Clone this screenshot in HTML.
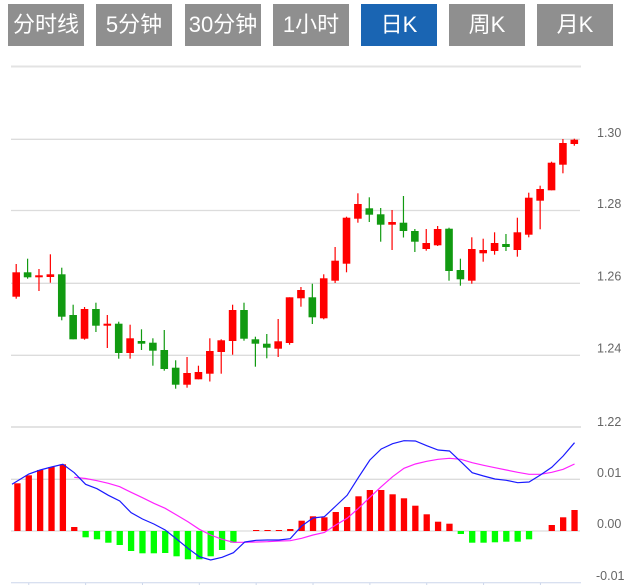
<!DOCTYPE html>
<html><head><meta charset="utf-8"><style>
html,body{margin:0;padding:0;background:#fff;}
body{width:638px;height:585px;position:relative;overflow:hidden;font-family:"Liberation Sans","Noto Sans CJK SC",sans-serif;}
.b{position:absolute;top:4px;width:76px;height:42px;line-height:42px;text-align:center;color:#fff;background:#8f8f8f;font-size:22px;white-space:nowrap;}
.b.on{background:#1a65b3;}
svg{position:absolute;left:0;top:0;}
.r{fill:#ff0000;}
.g{fill:#119a11;}
.gb{fill:#00ff00;}
.wr{stroke:#ff0000;stroke-width:1.2;}
.wg{stroke:#119a11;stroke-width:1.2;}
.lbl{font-family:"Liberation Sans",sans-serif;font-size:12.5px;fill:#666;}
</style></head><body>
<div class="b" style="left:8px">分时线</div>
<div class="b" style="left:96px">5分钟</div>
<div class="b" style="left:185px">30分钟</div>
<div class="b" style="left:273px">1小时</div>
<div class="b on" style="left:361px">日K</div>
<div class="b" style="left:449px">周K</div>
<div class="b" style="left:537px">月K</div>
<svg width="638" height="585" viewBox="0 0 638 585">
<g stroke="#e3e3e3" stroke-width="2">
<line x1="11" y1="66.5" x2="581" y2="66.5"/>
<line x1="11" y1="427" x2="581" y2="427"/>
</g>
<g stroke="#dcdcdc" stroke-width="1.3">
<line x1="11" y1="139.3" x2="580" y2="139.3"/>
<line x1="11" y1="210.5" x2="580" y2="210.5"/>
<line x1="11" y1="283.3" x2="580" y2="283.3"/>
<line x1="11" y1="355.3" x2="580" y2="355.3"/>
<line x1="11" y1="479.3" x2="580" y2="479.3"/>
<line x1="11" y1="531" x2="580" y2="531"/>
</g>
<line x1="11" y1="582.7" x2="581" y2="582.7" stroke="#ccd6eb" stroke-width="1"/>
<g stroke="#ccd6eb" stroke-width="1">
<line x1="28.77" y1="583" x2="28.77" y2="586"/>
<line x1="85.62" y1="583" x2="85.62" y2="586"/>
<line x1="142.47" y1="583" x2="142.47" y2="586"/>
<line x1="199.32" y1="583" x2="199.32" y2="586"/>
<line x1="256.17" y1="583" x2="256.17" y2="586"/>
<line x1="313.02" y1="583" x2="313.02" y2="586"/>
<line x1="369.87" y1="583" x2="369.87" y2="586"/>
<line x1="426.72" y1="583" x2="426.72" y2="586"/>
<line x1="483.57" y1="583" x2="483.57" y2="586"/>
<line x1="540.42" y1="583" x2="540.42" y2="586"/>
</g>
<g class="lbl">
<text x="597" y="137">1.30</text>
<text x="597" y="208">1.28</text>
<text x="597" y="280.5">1.26</text>
<text x="597" y="352.5">1.24</text>
<text x="597" y="426">1.22</text>
<text x="597" y="477">0.01</text>
<text x="597" y="528">0.00</text>
<text x="596" y="580">-0.01</text>
</g>
<!-- wicks -->
<g>
<line class="wr" x1="16.2" y1="264" x2="16.2" y2="298.7"/>
<line class="wg" x1="27.59" y1="258.7" x2="27.59" y2="278.7"/>
<line class="wr" x1="38.98" y1="269" x2="38.98" y2="291"/>
<line class="wr" x1="50.37" y1="254.3" x2="50.37" y2="282.7"/>
<line class="wg" x1="61.76" y1="267.7" x2="61.76" y2="320.3"/>
<line class="wg" x1="73.15" y1="304.7" x2="73.15" y2="339.3"/>
<line class="wr" x1="84.54" y1="307" x2="84.54" y2="339.7"/>
<line class="wg" x1="95.93" y1="302.7" x2="95.93" y2="332"/>
<line class="wr" x1="107.32" y1="315" x2="107.32" y2="348"/>
<line class="wg" x1="118.71" y1="321.7" x2="118.71" y2="358.7"/>
<line class="wr" x1="130.1" y1="324.7" x2="130.1" y2="358.7"/>
<line class="wg" x1="141.49" y1="329.3" x2="141.49" y2="350"/>
<line class="wg" x1="152.88" y1="338.3" x2="152.88" y2="365.7"/>
<line class="wg" x1="164.27" y1="330" x2="164.27" y2="370.7"/>
<line class="wg" x1="175.66" y1="360.3" x2="175.66" y2="388.7"/>
<line class="wr" x1="187.05" y1="357" x2="187.05" y2="387.7"/>
<line class="wr" x1="198.44" y1="365.7" x2="198.44" y2="379.3"/>
<line class="wr" x1="209.83" y1="338.3" x2="209.83" y2="381.5"/>
<line class="wr" x1="221.22" y1="339.3" x2="221.22" y2="373.7"/>
<line class="wr" x1="232.61" y1="304.7" x2="232.61" y2="354.7"/>
<line class="wg" x1="244" y1="302.7" x2="244" y2="340.7"/>
<line class="wg" x1="255.39" y1="336.7" x2="255.39" y2="366.7"/>
<line class="wg" x1="266.78" y1="334" x2="266.78" y2="358.3"/>
<line class="wr" x1="278.17" y1="319" x2="278.17" y2="357"/>
<line class="wr" x1="289.56" y1="297.3" x2="289.56" y2="344.7"/>
<line class="wr" x1="300.95" y1="287" x2="300.95" y2="306.7"/>
<line class="wg" x1="312.34" y1="283.7" x2="312.34" y2="324"/>
<line class="wr" x1="323.73" y1="274.3" x2="323.73" y2="319.3"/>
<line class="wr" x1="335.12" y1="247" x2="335.12" y2="283"/>
<line class="wr" x1="346.51" y1="216.7" x2="346.51" y2="272.3"/>
<line class="wr" x1="357.9" y1="193.3" x2="357.9" y2="222.7"/>
<line class="wg" x1="369.29" y1="197.3" x2="369.29" y2="222"/>
<line class="wg" x1="380.68" y1="208" x2="380.68" y2="241.7"/>
<line class="wr" x1="392.07" y1="210" x2="392.07" y2="250"/>
<line class="wg" x1="403.46" y1="196" x2="403.46" y2="237.5"/>
<line class="wg" x1="414.85" y1="229" x2="414.85" y2="252"/>
<line class="wr" x1="426.24" y1="229" x2="426.24" y2="250.7"/>
<line class="wr" x1="437.63" y1="226" x2="437.63" y2="246"/>
<line class="wg" x1="449.02" y1="227.7" x2="449.02" y2="280.7"/>
<line class="wg" x1="460.41" y1="258.7" x2="460.41" y2="285.7"/>
<line class="wr" x1="471.8" y1="237.3" x2="471.8" y2="283.7"/>
<line class="wr" x1="483.19" y1="238.7" x2="483.19" y2="261.7"/>
<line class="wr" x1="494.58" y1="232.3" x2="494.58" y2="254.7"/>
<line class="wg" x1="505.97" y1="234" x2="505.97" y2="251"/>
<line class="wr" x1="517.36" y1="217.7" x2="517.36" y2="256.7"/>
<line class="wr" x1="528.75" y1="192.7" x2="528.75" y2="237.3"/>
<line class="wr" x1="540.14" y1="185.7" x2="540.14" y2="229.3"/>
<line class="wr" x1="551.53" y1="161.7" x2="551.53" y2="190.3"/>
<line class="wr" x1="562.92" y1="139" x2="562.92" y2="173.3"/>
<line class="wr" x1="574.31" y1="138.7" x2="574.31" y2="145.7"/>
</g>
<!-- bodies -->
<g>
<rect class="r" x="12.4" y="272.3" width="7.6" height="24.4"/>
<rect class="g" x="23.79" y="272.3" width="7.6" height="5"/>
<rect class="r" x="35.18" y="275.3" width="7.6" height="2"/>
<rect class="r" x="46.57" y="274.3" width="7.6" height="2.7"/>
<rect class="g" x="57.96" y="274.3" width="7.6" height="42.4"/>
<rect class="g" x="69.35" y="315" width="7.6" height="24.3"/>
<rect class="r" x="80.74" y="309" width="7.6" height="29.7"/>
<rect class="g" x="92.13" y="309" width="7.6" height="16.7"/>
<rect class="r" x="103.52" y="323.7" width="7.6" height="2"/>
<rect class="g" x="114.91" y="323.7" width="7.6" height="29.3"/>
<rect class="r" x="126.3" y="338.3" width="7.6" height="14.7"/>
<rect class="g" x="137.69" y="341" width="7.6" height="2.7"/>
<rect class="g" x="149.08" y="342.7" width="7.6" height="8"/>
<rect class="g" x="160.47" y="350" width="7.6" height="19"/>
<rect class="g" x="171.86" y="367.7" width="7.6" height="17"/>
<rect class="r" x="183.25" y="373" width="7.6" height="11.7"/>
<rect class="r" x="194.64" y="372" width="7.6" height="7.3"/>
<rect class="r" x="206.03" y="351" width="7.6" height="22.7"/>
<rect class="r" x="217.42" y="340.3" width="7.6" height="11.7"/>
<rect class="r" x="228.81" y="310" width="7.6" height="31"/>
<rect class="g" x="240.2" y="310" width="7.6" height="28.7"/>
<rect class="g" x="251.59" y="339.3" width="7.6" height="4.4"/>
<rect class="g" x="262.98" y="343.7" width="7.6" height="4"/>
<rect class="r" x="274.37" y="341.3" width="7.6" height="7.4"/>
<rect class="r" x="285.76" y="297.3" width="7.6" height="45.7"/>
<rect class="r" x="297.15" y="290" width="7.6" height="8.3"/>
<rect class="g" x="308.54" y="297.3" width="7.6" height="20"/>
<rect class="r" x="319.93" y="278.3" width="7.6" height="40"/>
<rect class="r" x="331.32" y="260.7" width="7.6" height="20"/>
<rect class="r" x="342.71" y="217.7" width="7.6" height="46"/>
<rect class="r" x="354.1" y="204" width="7.6" height="14.7"/>
<rect class="g" x="365.49" y="208.3" width="7.6" height="6.4"/>
<rect class="g" x="376.88" y="214.3" width="7.6" height="10.4"/>
<rect class="r" x="388.27" y="222" width="7.6" height="2.7"/>
<rect class="g" x="399.66" y="222.7" width="7.6" height="8.3"/>
<rect class="g" x="411.05" y="231" width="7.6" height="10.7"/>
<rect class="r" x="422.44" y="243" width="7.6" height="6"/>
<rect class="r" x="433.83" y="229" width="7.6" height="16.3"/>
<rect class="g" x="445.22" y="228.7" width="7.6" height="42.3"/>
<rect class="g" x="456.61" y="270" width="7.6" height="9.3"/>
<rect class="r" x="468" y="249" width="7.6" height="31.7"/>
<rect class="r" x="479.39" y="250" width="7.6" height="3.3"/>
<rect class="r" x="490.78" y="243" width="7.6" height="8"/>
<rect class="g" x="502.17" y="244" width="7.6" height="3"/>
<rect class="r" x="513.56" y="232.3" width="7.6" height="17.7"/>
<rect class="r" x="524.95" y="197.7" width="7.6" height="37"/>
<rect class="r" x="536.34" y="189" width="7.6" height="11.7"/>
<rect class="r" x="547.73" y="162.7" width="7.6" height="27.6"/>
<rect class="r" x="559.12" y="143" width="7.6" height="21.7"/>
<rect class="r" x="570.51" y="139.7" width="7.6" height="4.3"/>
</g>
<!-- MACD bars -->
<g>
<rect class="r" x="14.25" y="483.3" width="6.3" height="47.7"/>
<rect class="r" x="25.62" y="475.3" width="6.3" height="55.7"/>
<rect class="r" x="36.99" y="470" width="6.3" height="61"/>
<rect class="r" x="48.36" y="467" width="6.3" height="64"/>
<rect class="r" x="59.73" y="464.3" width="6.3" height="66.7"/>
<rect class="r" x="71.1" y="527" width="6.3" height="4"/>
<rect class="gb" x="82.47" y="531" width="6.3" height="6.3"/>
<rect class="gb" x="93.84" y="531" width="6.3" height="8.3"/>
<rect class="gb" x="105.21" y="531" width="6.3" height="11.7"/>
<rect class="gb" x="116.58" y="531" width="6.3" height="14"/>
<rect class="gb" x="127.95" y="531" width="6.3" height="20"/>
<rect class="gb" x="139.32" y="531" width="6.3" height="22.3"/>
<rect class="gb" x="150.69" y="531" width="6.3" height="22.3"/>
<rect class="gb" x="162.06" y="531" width="6.3" height="22"/>
<rect class="gb" x="173.43" y="531" width="6.3" height="25.3"/>
<rect class="gb" x="184.8" y="531" width="6.3" height="28.3"/>
<rect class="gb" x="196.17" y="531" width="6.3" height="28.3"/>
<rect class="gb" x="207.54" y="531" width="6.3" height="25.3"/>
<rect class="gb" x="218.91" y="531" width="6.3" height="19"/>
<rect class="gb" x="230.28" y="531" width="6.3" height="11.7"/>
<rect class="r" x="253.02" y="530" width="6.3" height="1"/>
<rect class="r" x="264.39" y="530" width="6.3" height="1"/>
<rect class="r" x="275.76" y="530" width="6.3" height="1"/>
<rect class="r" x="287.13" y="529" width="6.3" height="2"/>
<rect class="r" x="298.5" y="520.7" width="6.3" height="10.3"/>
<rect class="r" x="309.87" y="516.3" width="6.3" height="14.7"/>
<rect class="r" x="321.24" y="517.3" width="6.3" height="13.7"/>
<rect class="r" x="332.61" y="512" width="6.3" height="19"/>
<rect class="r" x="343.98" y="507" width="6.3" height="24"/>
<rect class="r" x="355.35" y="496.3" width="6.3" height="34.7"/>
<rect class="r" x="366.72" y="490" width="6.3" height="41"/>
<rect class="r" x="378.09" y="490" width="6.3" height="41"/>
<rect class="r" x="389.46" y="494.3" width="6.3" height="36.7"/>
<rect class="r" x="400.83" y="498.3" width="6.3" height="32.7"/>
<rect class="r" x="412.2" y="505.7" width="6.3" height="25.3"/>
<rect class="r" x="423.57" y="514.3" width="6.3" height="16.7"/>
<rect class="r" x="434.94" y="521.7" width="6.3" height="9.3"/>
<rect class="r" x="446.31" y="523.7" width="6.3" height="7.3"/>
<rect class="gb" x="457.68" y="531" width="6.3" height="3"/>
<rect class="gb" x="469.05" y="531" width="6.3" height="11.7"/>
<rect class="gb" x="480.42" y="531" width="6.3" height="11.7"/>
<rect class="gb" x="491.79" y="531" width="6.3" height="11.3"/>
<rect class="gb" x="503.16" y="531" width="6.3" height="10.7"/>
<rect class="gb" x="514.53" y="531" width="6.3" height="10.7"/>
<rect class="gb" x="525.9" y="531" width="6.3" height="8.3"/>
<rect class="r" x="548.64" y="525" width="6.3" height="6"/>
<rect class="r" x="560.01" y="517.3" width="6.3" height="13.7"/>
<rect class="r" x="571.38" y="510" width="6.3" height="21"/>
</g>
<polyline fill="none" stroke="#ff22ff" stroke-width="1.2" points="74.25,477.3 85.62,478.5 96.99,480.7 108.36,483.3 119.73,486.7 131.1,492.3 142.47,497.7 153.84,503.3 165.21,508.3 176.58,515 187.95,521.7 199.32,529.3 210.69,535 222.06,539.3 233.43,542.3 244.8,542.3 256.17,542 267.54,541.7 278.91,541 290.28,540.7 301.65,538.3 313.02,535 324.39,532.5 335.76,525 347.13,518.3 358.5,508.3 369.87,497.3 381.24,486.7 392.61,476.7 403.98,468.3 415.35,464 426.72,461.3 438.09,459.3 449.46,458.3 460.83,459.3 472.2,462.7 483.57,465.3 494.94,467.7 506.31,470 517.68,472.3 529.05,474.3 540.42,474.3 551.79,472.3 563.16,469.3 574.53,464"/>
<polyline fill="none" stroke="#1a1aff" stroke-width="1.2" points="12,484.3 28.77,474 40.14,470 51.51,467 62.88,464.3 74.25,472.7 85.62,484.3 96.99,488.7 108.36,495.3 119.73,501 131.1,512.7 142.47,519 153.84,524 165.21,530 176.58,539 187.95,548.3 199.32,556.7 210.69,560 222.06,557.3 233.43,552.7 244.8,542 256.17,540.3 267.54,540 278.91,540 290.28,538.7 301.65,526 313.02,518 324.39,516.7 335.76,506 347.13,495.3 358.5,477.3 369.87,460 381.24,449 392.61,443.7 403.98,440.7 415.35,441 426.72,445.7 438.09,450 449.46,451 460.83,461.7 472.2,472.7 483.57,476 494.94,479 506.31,480.3 517.68,482.7 529.05,482 540.42,475 551.79,467.3 563.16,456 574.53,442.7"/>
</svg>
</body></html>
